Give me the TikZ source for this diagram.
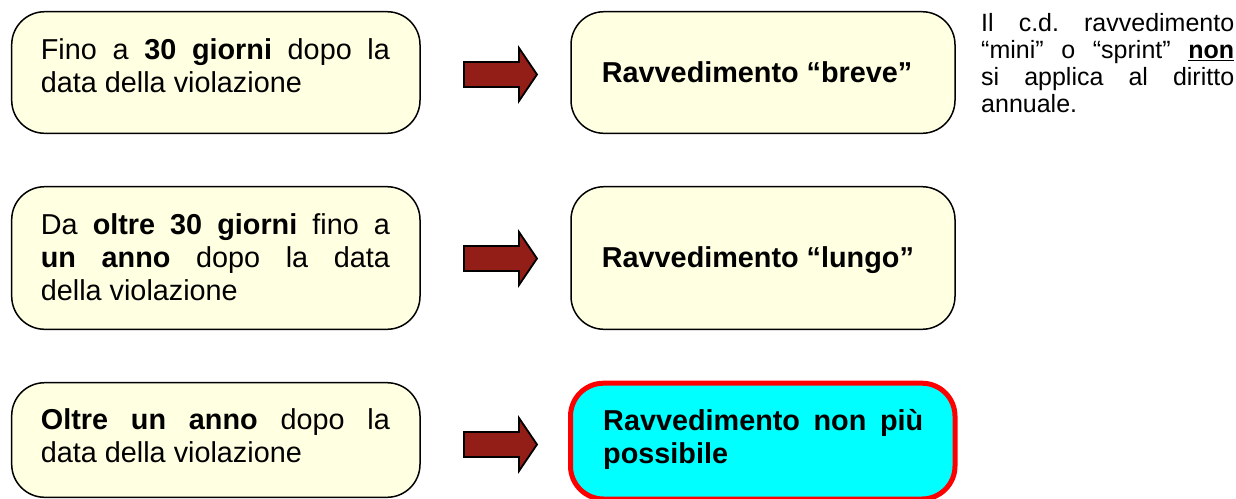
\documentclass[tikz,border=0pt]{standalone}
\usepackage{fontspec}
\setmainfont{Liberation Sans}
\definecolor{boxfill}{RGB}{255,255,225}
\definecolor{arrowred}{RGB}{147,29,23}
\definecolor{cyanfill}{RGB}{0,255,255}
\begin{document}
\frenchspacing
\begin{tikzpicture}[x=1pt,y=-1pt,
  ybox/.style={draw=black, line width=1.5pt, fill=boxfill, rounded corners=33pt, inner sep=0pt, outer sep=0pt},
  redbox/.style={draw=red, line width=5pt, fill=cyanfill, rounded corners=33pt, inner sep=0pt, outer sep=0pt},
  ltext/.style={inner sep=0pt, text width=349pt, align=justify, anchor=base west, font=\fontsize{28.8}{33}\selectfont},
  rtext/.style={inner sep=0pt, anchor=base west, font=\fontsize{28.8}{33}\selectfont\bfseries},
  rjtext/.style={inner sep=0pt, text width=320pt, align=justify, anchor=base west, font=\fontsize{28.8}{33}\selectfont\bfseries},
  notetext/.style={inner sep=0pt, text width=253pt, align=justify, anchor=base west, font=\fontsize{25}{27}\selectfont},
  blockarrow/.style={draw=black, line width=1.8pt, fill=arrowred, line join=miter}]
\useasboundingbox (0,0) rectangle (1236,498);

% left boxes
\node[ybox, minimum width=408.3pt, minimum height=121.6pt] (l1) at (215.85,72.5) {};
\node[ybox, minimum width=408.3pt, minimum height=142.6pt] (l2) at (215.85,258) {};
\node[ybox, minimum width=408.3pt, minimum height=114.6pt] (l3) at (215.85,440) {};

% right boxes
\node[ybox, minimum width=384pt, minimum height=121.6pt] (r1) at (763,72.5) {};
\node[ybox, minimum width=384pt, minimum height=142.6pt] (r2) at (763,258) {};
\node[redbox, minimum width=384.5pt, minimum height=115.8pt] (r3) at (762.75,441.1) {};

% left texts
\node[ltext] (t1) at (40.7,59.3) {Fino a \textbf{30 giorni} dopo la\linebreak data della violazione};
\node[ltext] (t2) at (40.7,234) {Da \textbf{oltre 30 giorni} fino a\linebreak \textbf{un anno} dopo la data\linebreak della violazione};
\node[ltext] (t3) at (40.7,429.3) {\textbf{Oltre un anno} dopo la\linebreak data della violazione};

% right texts
\node[rtext] (u1) at (601.7,82.5) {Ravvedimento “breve”};
\node[rtext] (u2) at (601.7,267.3) {Ravvedimento “lungo”};
\node[rjtext] (u3) at (603,430) {Ravvedimento non più\linebreak possibile};

% note
\node[notetext] (note) at (981,31.5) {Il c.d. ravvedimento\linebreak “mini” o “sprint” \underline{\textbf{non}}\linebreak si applica al diritto\linebreak annuale.};

% block arrows
\foreach \cy in {74.5,258.5,444.5}{
  \draw[blockarrow] (464,\cy-12.5) -- (519,\cy-12.5) -- (519,\cy-26.5) -- (537,\cy) -- (519,\cy+26.5) -- (519,\cy+12.5) -- (464,\cy+12.5) -- cycle;
}
\end{tikzpicture}
\end{document}
